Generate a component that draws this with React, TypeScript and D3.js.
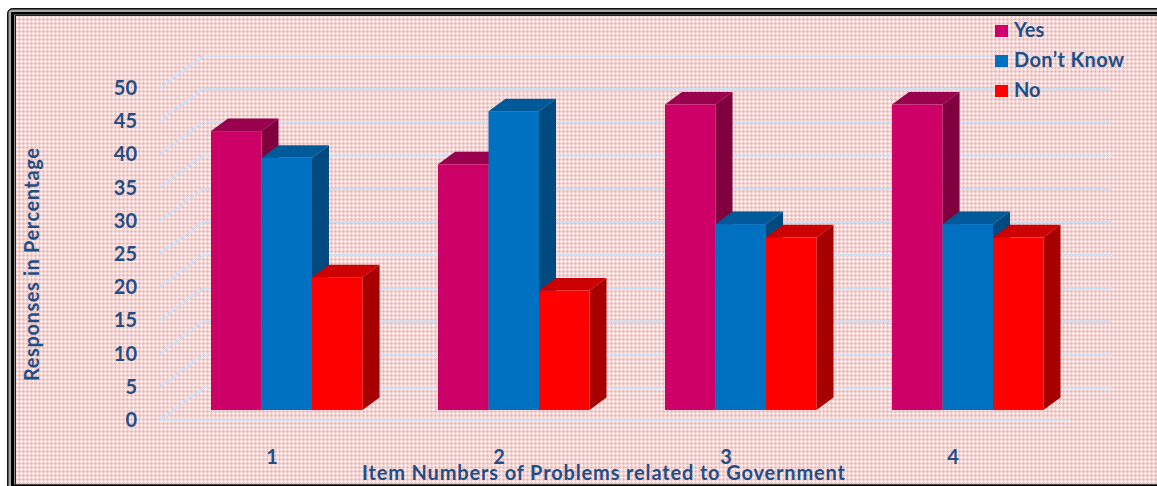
import React from "react";
import * as d3 from "d3";

const WIDTH = 1157;
const HEIGHT = 486;

// Survey responses, in percent, for each questionnaire item.
const items = [1, 2, 3, 4];
const yesValues = [42, 37, 46, 46];
const dontKnowValues = [38, 45, 28, 28];
const noValues = [20, 18, 26, 26];
const yTicks = d3.range(0, 51, 5);

const seriesNames = ["Yes", "Don\u2019t Know", "No"];
const seriesValues = [yesValues, dontKnowValues, noValues];
const faceColors = ["#cc0066", "#0070c0", "#ff0000"];
const topColors = ["#99004d", "#005a9a", "#cc0000"];
const sideColors = ["#80003f", "#004a80", "#a60000"];

const TEXT_COLOR = "#1f4e86";
const GRID_COLOR = "#cfdef2";
const FONT = "Lato, sans-serif";

// Oblique projection of the chart's box.
const WALL_DX = 43;
const WALL_DY = 32;
const BAR_DX = 17;
const BAR_DY = 12.5;
const BAR_BASE = 410;

const y = d3.scaleLinear().domain([0, 50]).range([420, 88]);
const groupX = d3.scaleLinear().domain([1, 4]).range([211, 892]);
const seriesX = d3.scaleBand<number>().domain([0, 1, 2]).range([0, 151.5]);
const barHeight = (v: number) => y(0) - y(v);

function Bar({ x, w, v, s }: { x: number; w: number; v: number; s: number }) {
  const top = BAR_BASE - barHeight(v);
  const right = x + w;
  return (
    <g>
      <polygon
        fill={sideColors[s]}
        points={`${right},${top} ${right + BAR_DX},${top - BAR_DY} ${right + BAR_DX},${BAR_BASE - BAR_DY} ${right},${BAR_BASE}`}
      />
      <polygon
        fill={topColors[s]}
        points={`${x},${top} ${x + BAR_DX},${top - BAR_DY} ${right + BAR_DX},${top - BAR_DY} ${right},${top}`}
      />
      <rect x={x} y={top} width={w} height={BAR_BASE - top} fill={faceColors[s]} />
    </g>
  );
}

export default function App() {
  const w = seriesX.bandwidth();
  return (
    <svg
      width={WIDTH}
      height={HEIGHT}
      viewBox={`0 0 ${WIDTH} ${HEIGHT}`}
      style={{ position: "absolute", left: 0, top: 0, display: "block", background: "#fff" }}
    >
      <defs>
        <pattern id="weave" width={4} height={4} patternUnits="userSpaceOnUse">
          <rect width={4} height={4} fill="#edcdcc" />
          <rect x={1} y={0} width={1} height={3} fill="#fdf6f5" />
          <rect x={0} y={1} width={3} height={1} fill="#fdf6f5" />
          <rect x={3} y={3} width={1} height={1} fill="#e3aaa9" />
        </pattern>
      </defs>

      {/* Framed background, running off the right edge */}
      <rect x={7.5} y={8.5} width={1170} height={490} rx={5} fill="#000" stroke="#111" />
      <rect x={8.5} y={9.5} width={1170} height={490} rx={4} fill="#a8a8a8" />
      <rect x={11} y={12} width={1170} height={480} fill="#000" />
      <rect x={14} y={14.5} width={1170} height={470} fill="#8a8a8a" />
      <rect x={15} y={15} width={1170} height={469} fill="#222" />
      <rect x={16} y={16} width={1170} height={468} fill="url(#weave)" />

      {/* Gridlines: side wall and back wall */}
      {yTicks.map((t) => (
        <polyline
          key={t}
          fill="none"
          stroke={GRID_COLOR}
          strokeWidth={2.2}
          points={`${160},${y(t)} ${160 + WALL_DX},${y(t) - WALL_DY} ${1112},${y(t) - WALL_DY}`}
        />
      ))}
      <line x1={160} x2={1069} y1={y(0)} y2={y(0)} stroke={GRID_COLOR} strokeWidth={2.2} />

      {/* Bars, painted left to right so each face overlaps its neighbour's side */}
      {items.map((item, i) =>
        seriesValues.map((vals, s) => (
          <Bar key={`${item}-${s}`} x={groupX(item) + (seriesX(s) ?? 0)} w={w} v={vals[i]} s={s} />
        ))
      )}

      <g fontFamily={FONT} fontWeight={700} fill={TEXT_COLOR}>
        {yTicks.map((t) => (
          <text key={t} x={137} y={y(t) - 1} fontSize={20} textAnchor="end" dominantBaseline="central">
            {t}
          </text>
        ))}
        {items.map((item) => (
          <text key={item} x={groupX(item) + 61} y={456} fontSize={20} textAnchor="middle" dominantBaseline="central">
            {item}
          </text>
        ))}
        <text x={603.5} y={472} fontSize={20} textAnchor="middle" dominantBaseline="central" textLength={483}>
          Item Numbers of Problems related to Government
        </text>
        <text
          transform="translate(31,264.5) rotate(-90)"
          fontSize={20}
          textAnchor="middle"
          dominantBaseline="central"
          textLength={233}
        >
          Responses in Percentage
        </text>

        {seriesNames.map((name, s) => (
          <g key={name}>
            <rect x={995} y={25 + s * 30} width={13} height={12} fill={faceColors[s]} />
            <text x={1014} y={29 + s * 30} fontSize={20} dominantBaseline="central" textLength={s === 1 ? 110 : undefined}>
              {name}
            </text>
          </g>
        ))}
      </g>
    </svg>
  );
}
